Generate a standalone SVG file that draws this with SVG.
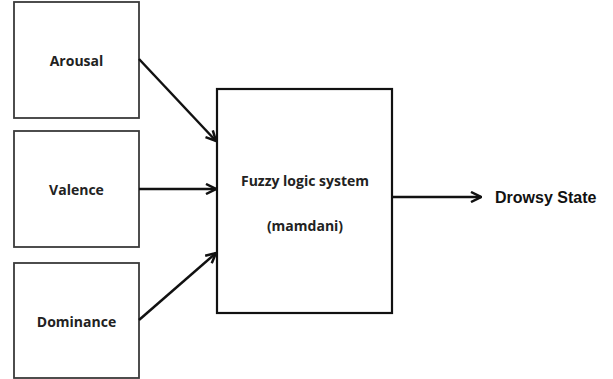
<svg xmlns="http://www.w3.org/2000/svg" width="613" height="379" viewBox="0 0 613 379">
<style>
.box{fill:#fff;stroke:#3a3a3a;stroke-width:1.8}
.main{fill:#fff;stroke:#111;stroke-width:2.2}
.lbl{font-family:"Open Sans","Liberation Sans",sans-serif;font-weight:bold;font-size:14px;fill:#222;text-anchor:middle}
.out{font-family:"Liberation Sans",Arial,sans-serif;font-weight:bold;font-size:16px;fill:#111}
.edge{stroke:#111;stroke-width:2.5;fill:none;marker-end:url(#ah)}
</style>
<defs>
<marker id="ah" viewBox="0 0 10 10" refX="9" refY="5" markerWidth="5" markerHeight="5" orient="auto" markerUnits="strokeWidth">
<path d="M1,1 L9,5 L1,9" fill="none" stroke="#111" stroke-width="2"/>
</marker>
</defs>
<rect width="613" height="379" fill="#fff"/>
<g id="arousal"><rect class="box" x="14" y="2" width="125" height="116"/><text class="lbl" x="76.5" y="66">Arousal</text></g>
<g id="valence"><rect class="box" x="14" y="131" width="125" height="116"/><text class="lbl" x="76.5" y="195">Valence</text></g>
<g id="dominance"><rect class="box" x="14" y="263" width="125" height="115"/><text class="lbl" x="76.5" y="327">Dominance</text></g>
<g id="fuzzy"><rect class="main" x="217" y="89" width="175" height="224"/><text class="lbl" x="305" y="186">Fuzzy logic system</text><text class="lbl" x="305" y="231">(mamdani)</text></g>
<g id="drowsy"><text class="out" x="495" y="203">Drowsy State</text></g>
<g id="connectors">
<line class="edge" x1="139" y1="59" x2="216" y2="141"/>
<line class="edge" x1="139" y1="189" x2="216" y2="189"/>
<line class="edge" x1="139" y1="320" x2="216" y2="253"/>
<line class="edge" x1="392" y1="197" x2="481" y2="197"/>
</g>
</svg>
